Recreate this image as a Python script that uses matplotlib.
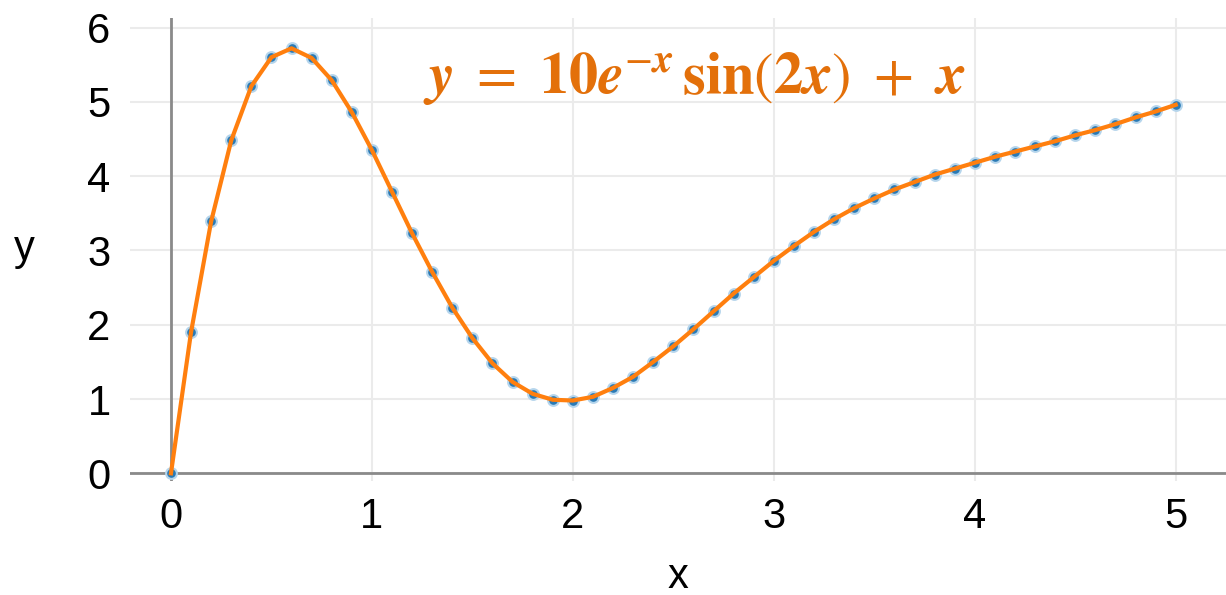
import matplotlib.pyplot as plt

plt.rcParams['font.family'] = ['Liberation Sans', 'DejaVu Sans']
plt.rcParams['mathtext.fontset'] = 'stix'

# sample points (step 0.1)
x_vals = [0.0, 0.1, 0.2, 0.3, 0.4, 0.5, 0.6, 0.7, 0.8, 0.9,
          1.0, 1.1, 1.2, 1.3, 1.4, 1.5, 1.6, 1.7, 1.8, 1.9,
          2.0, 2.1, 2.2, 2.3, 2.4, 2.5, 2.6, 2.7, 2.8, 2.9,
          3.0, 3.1, 3.2, 3.3, 3.4, 3.5, 3.6, 3.7, 3.8, 3.9,
          4.0, 4.1, 4.2, 4.3, 4.4, 4.5, 4.6, 4.7, 4.8, 4.9, 5.0]
y_vals = [0.00, 1.90, 3.39, 4.48, 5.21, 5.60, 5.72, 5.59, 5.29, 4.86,
          4.35, 3.79, 3.23, 2.71, 2.23, 1.82, 1.48, 1.23, 1.07, 0.99,
          0.98, 1.03, 1.15, 1.30, 1.50, 1.71, 1.94, 2.18, 2.42, 2.64,
          2.86, 3.06, 3.25, 3.42, 3.57, 3.70, 3.82, 3.92, 4.02, 4.10,
          4.18, 4.26, 4.33, 4.40, 4.47, 4.55, 4.62, 4.70, 4.79, 4.87, 4.96]
x_ticks = [0, 1, 2, 3, 4, 5]
y_ticks = [0, 1, 2, 3, 4, 5, 6]

fig = plt.figure(figsize=(12.26, 5.95), dpi=100)
ax = fig.add_axes([0.106, 0.192, 0.894, 0.778])

ax.set_xlim(-0.204, 5.25)
ax.set_ylim(-0.1, 6.13)
ax.set_xticks(x_ticks)
ax.set_yticks(y_ticks)
ax.grid(True, color='#ebebeb', linewidth=1.5)
ax.set_axisbelow(True)
for s in ax.spines.values():
    s.set_visible(False)
ax.tick_params(length=0, labelsize=30, pad=12)
ax.tick_params(axis='y', pad=14)

ax.axhline(0, color='#8a8a8a', linewidth=2, zorder=1)
ax.axvline(0, color='#8a8a8a', linewidth=2, zorder=1)

ax.scatter(x_vals, y_vals, s=60, color='#2a7ab5', edgecolor='#b5d5ec',
           linewidth=1.5, zorder=2)
ax.plot(x_vals, y_vals, color='#ff7f0e', linewidth=3, zorder=3)

ax.set_xlabel('x', fontsize=30, labelpad=14)
ax.set_ylabel('y', fontsize=30, rotation=0, labelpad=45, va='center')

ax.text(0.515, 0.87,
        r'$\boldsymbol{y}\ =\ \mathbf{10}\boldsymbol{e}^{-\boldsymbol{x}}\,'
        r'\mathbf{sin}(\mathbf{2}\boldsymbol{x})\ +\ \boldsymbol{x}$',
        transform=ax.transAxes, ha='center', va='center',
        fontsize=42, color='#e3700a')

fig.savefig('out.png', dpi=100)
